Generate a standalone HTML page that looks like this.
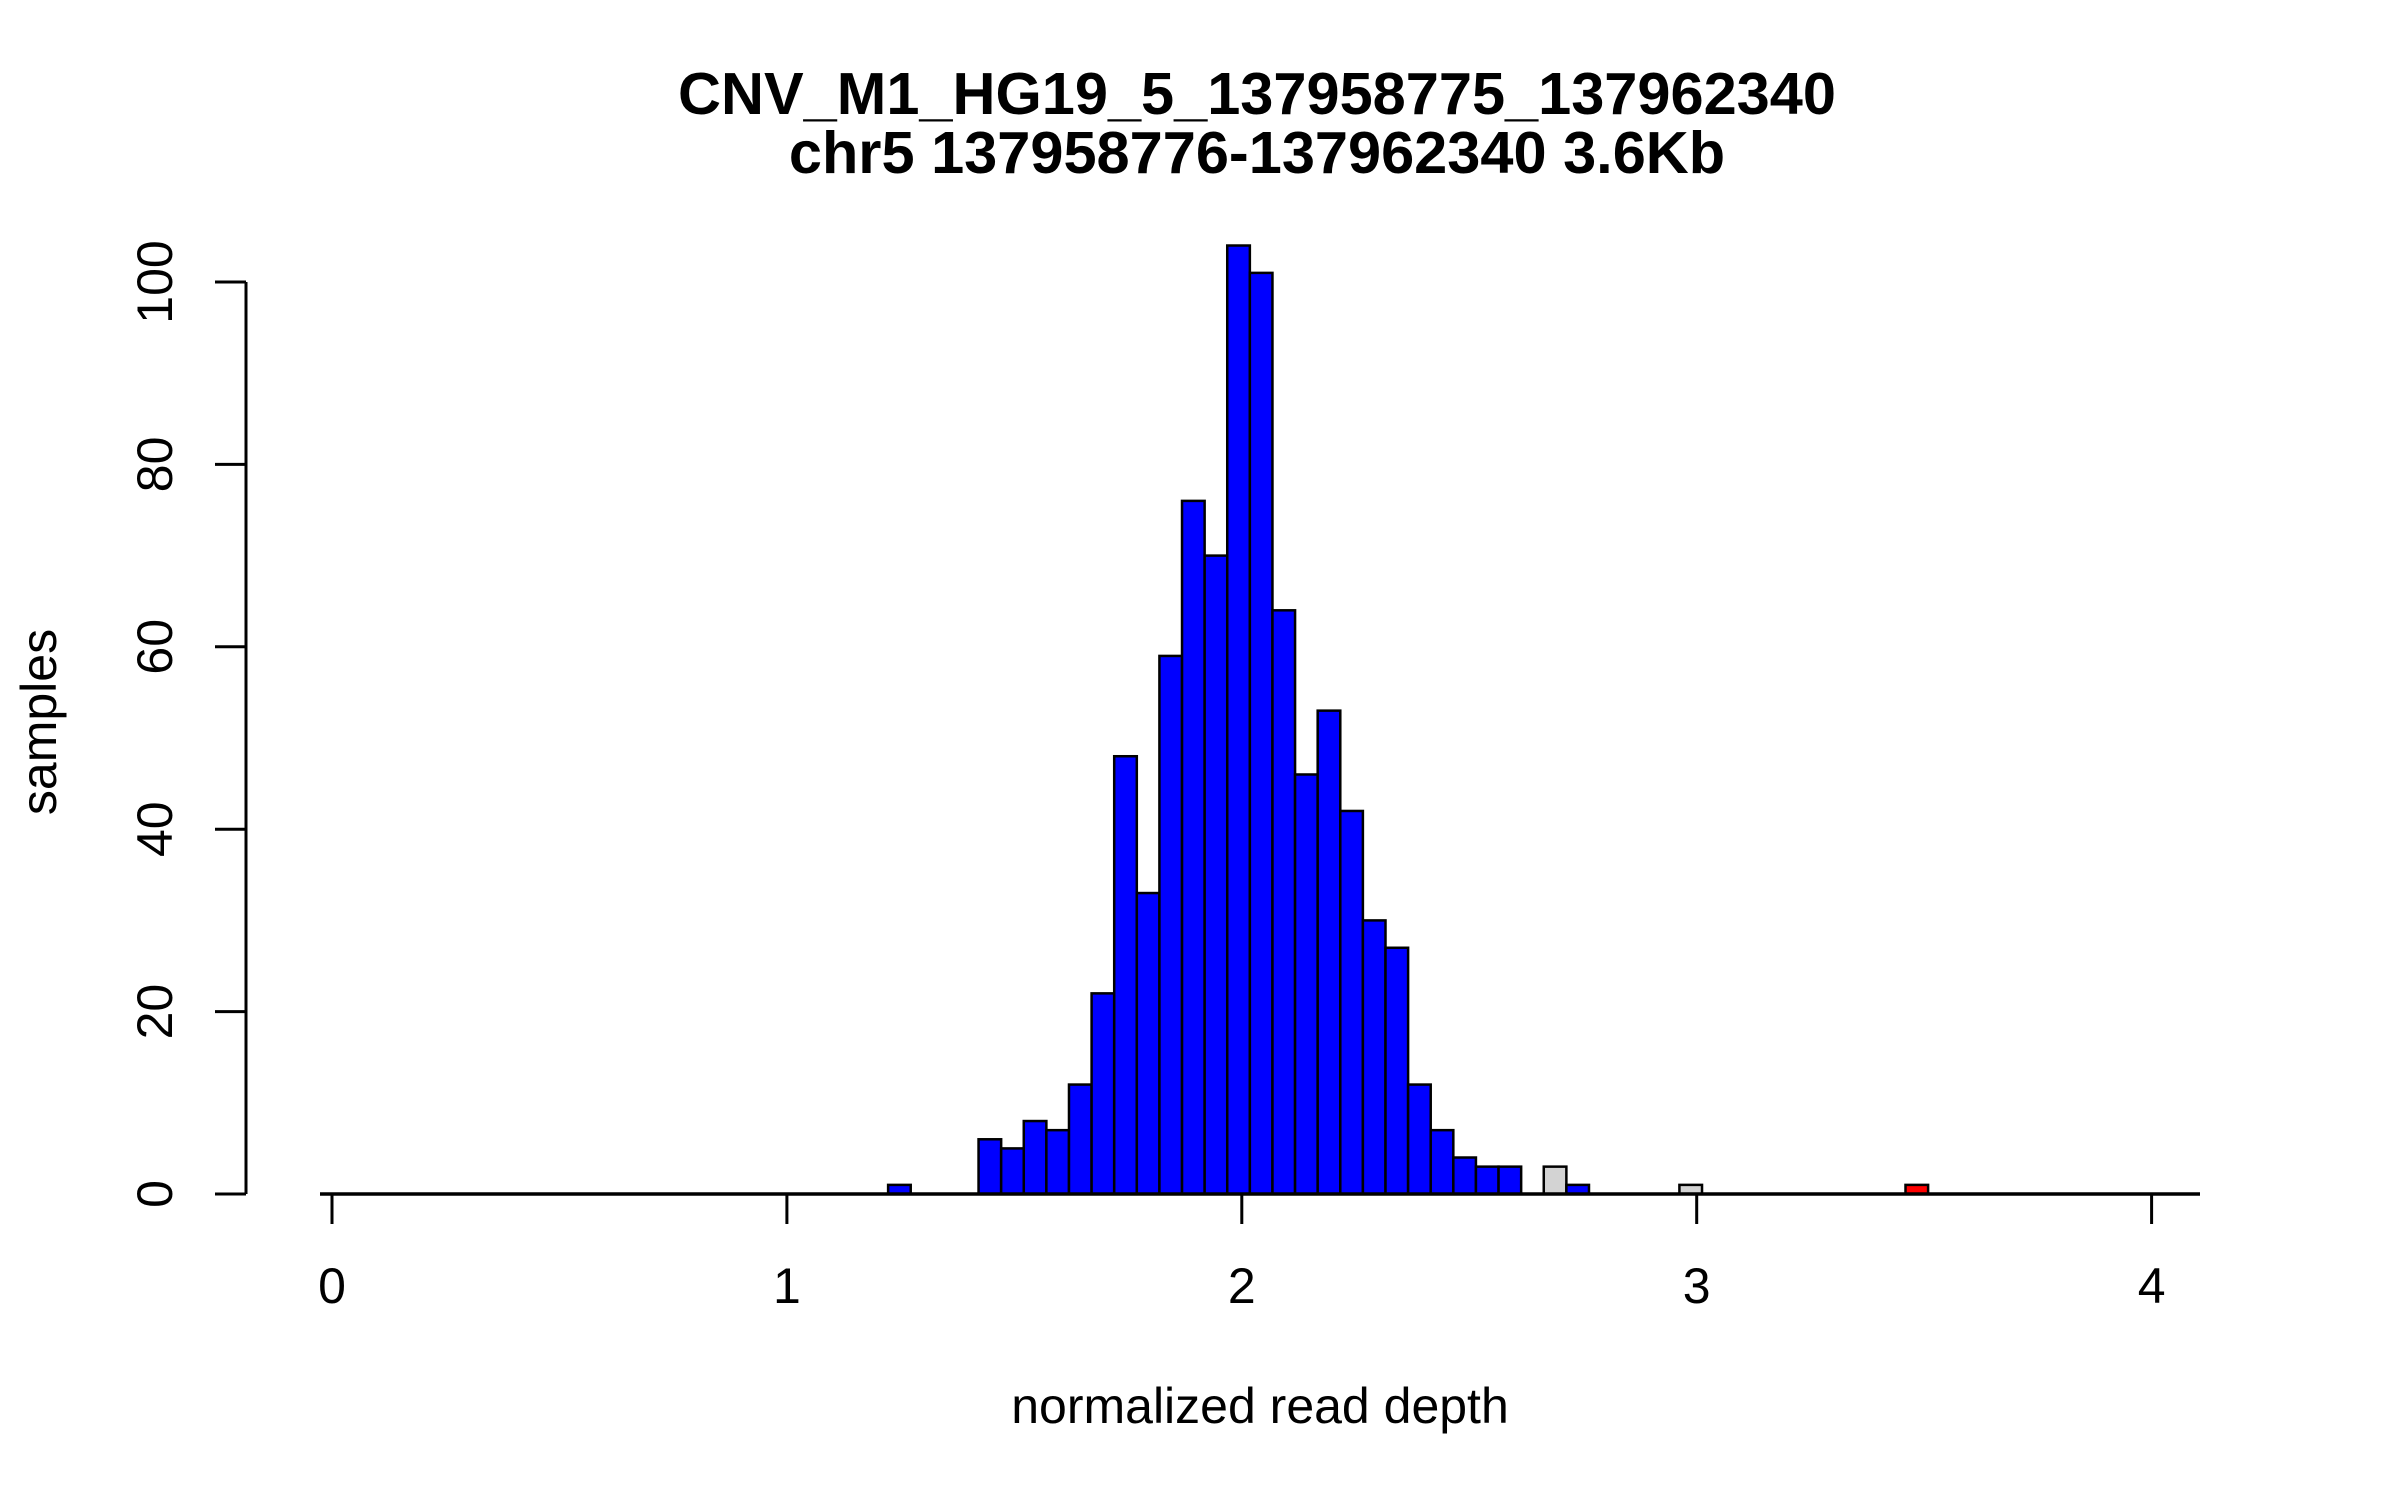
<!DOCTYPE html>
<html><head><meta charset="utf-8"><style>
html,body{margin:0;padding:0;background:#fff;}
svg text{font-family:"Liberation Sans",sans-serif;fill:#000;}
</style></head><body>
<svg id="chart" width="2400" height="1500" viewBox="0 0 2400 1500" xmlns="http://www.w3.org/2000/svg">
<text x="1257" y="114" font-size="59.5" font-weight="bold" text-anchor="middle">CNV_M1_HG19_5_137958775_137962340</text>
<text x="1257" y="173" font-size="59.5" font-weight="bold" text-anchor="middle">chr5 137958776-137962340 3.6Kb</text>
<text x="1260" y="1423" font-size="50" text-anchor="middle">normalized read depth</text>
<text x="0" y="0" font-size="50" text-anchor="middle" transform="translate(56,722) rotate(-90)">samples</text>
<g id="bars"></g>
<g id="axes"></g>
</svg>
<script>
const binStart = 1.2225;
const binWidth = 0.0497;
const counts = [1,0,0,0,6,5,8,7,12,22,48,33,59,76,70,104,101,64,46,53,42,30,27,12,7,4,3,3,0,3,1,0,0,0,0,1,0,0,0,0,0,0,0,0,0,1];
const binClass = ["b","b","b","b","b","b","b","b","b","b","b","b","b","b","b","b","b","b","b","b","b","b","b","b","b","b","b","b","b","g","b","b","b","b","b","g","b","b","b","b","b","b","b","b","b","r"];
const xTicks = [0,1,2,3,4];
const yTicks = [0,20,40,60,80,100];

const NS = "http://www.w3.org/2000/svg";
const X = v => 332 + v * 454.9;
const Y = v => 1194 - v * 9.12;
const fillFor = {b:"#0000ff", g:"#d3d3d3", r:"#ff0000"};
const bars = document.getElementById('bars');
const axes = document.getElementById('axes');

counts.forEach((c, i) => {
  if (c <= 0) return;
  const x0 = X(binStart + i * binWidth), x1 = X(binStart + (i + 1) * binWidth);
  const r = document.createElementNS(NS, 'rect');
  r.setAttribute('x', x0); r.setAttribute('width', x1 - x0);
  r.setAttribute('y', Y(c)); r.setAttribute('height', Y(0) - Y(c));
  r.setAttribute('fill', fillFor[binClass[i]]);
  r.setAttribute('stroke', '#000'); r.setAttribute('stroke-width', '2.5');
  
  
  bars.appendChild(r);
});

function line(x1, y1, x2, y2, w, name) {
  const l = document.createElementNS(NS, 'line');
  l.setAttribute('x1', x1); l.setAttribute('y1', y1);
  l.setAttribute('x2', x2); l.setAttribute('y2', y2);
  l.setAttribute('stroke', '#000'); l.setAttribute('stroke-width', w);
  
  
  axes.appendChild(l);
}
line(320, Y(0), 2200, Y(0), 3.5, 'x-baseline');
xTicks.forEach(t => {
  line(X(t), Y(0), X(t), Y(0) + 30, 3, 'x-tick');
  const tx = document.createElementNS(NS, 'text');
  tx.setAttribute('x', X(t)); tx.setAttribute('y', 1303);
  tx.setAttribute('font-size', '50'); tx.setAttribute('text-anchor', 'middle');
  tx.textContent = t;
  
  
  axes.appendChild(tx);
});
line(246, Y(yTicks[0]), 246, Y(yTicks[yTicks.length - 1]), 3, 'y-axis-line');
yTicks.forEach(t => {
  line(215, Y(t), 246, Y(t), 3, 'y-tick');
  const tx = document.createElementNS(NS, 'text');
  tx.setAttribute('x', 0); tx.setAttribute('y', 0);
  tx.setAttribute('font-size', '50'); tx.setAttribute('text-anchor', 'middle');
  tx.setAttribute('transform', 'translate(172,' + Y(t) + ') rotate(-90)');
  tx.textContent = t;
  
  
  axes.appendChild(tx);
});
</script>
</body></html>
